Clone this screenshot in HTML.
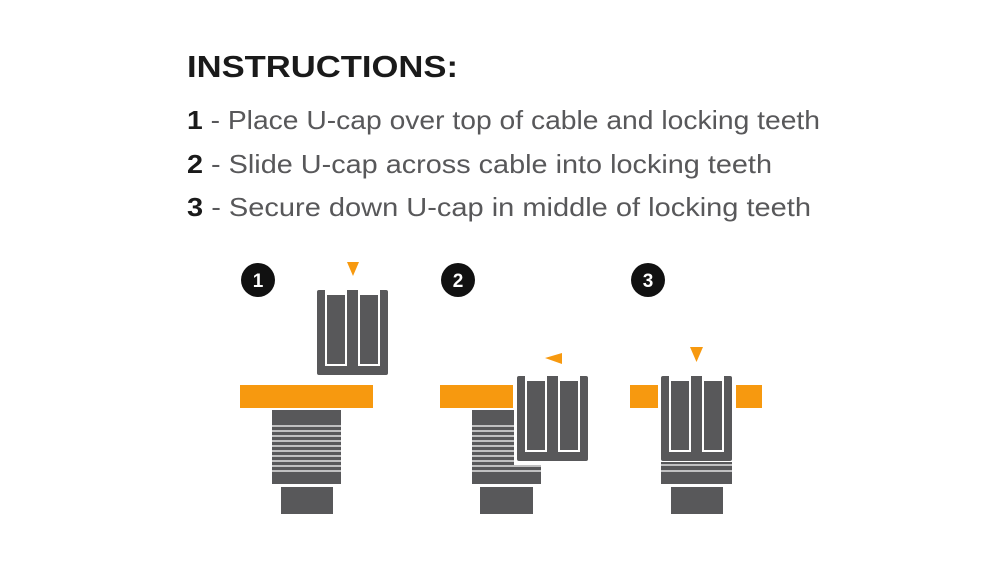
<!DOCTYPE html>
<html><head><meta charset="utf-8"><style>html,body{margin:0;padding:0;background:#fff}svg{display:block}</style></head>
<body>
<svg width="1000" height="565" viewBox="0 0 1000 565" xmlns="http://www.w3.org/2000/svg" font-family="Liberation Sans, sans-serif">
<rect width="1000" height="565" fill="#fff"/>
<text x="187" y="77" font-size="31" font-weight="bold" fill="#1a1a1a" textLength="271" lengthAdjust="spacingAndGlyphs">INSTRUCTIONS:</text>
<g font-size="26" fill="#58585a">
<text x="187" y="129" textLength="633" lengthAdjust="spacingAndGlyphs"><tspan font-weight="bold" fill="#1a1a1a">1</tspan> - Place U-cap over top of cable and locking teeth</text>
<text x="187" y="173" textLength="585" lengthAdjust="spacingAndGlyphs"><tspan font-weight="bold" fill="#1a1a1a">2</tspan> - Slide U-cap across cable into locking teeth</text>
<text x="187" y="216" textLength="624" lengthAdjust="spacingAndGlyphs"><tspan font-weight="bold" fill="#1a1a1a">3</tspan> - Secure down U-cap in middle of locking teeth</text>
</g>
<defs>
<g id="cap">
<rect x="0" y="0" width="71" height="85" rx="2" fill="#58585a"/>
<path d="M9 -1 V75 H29 V-1 M42 -1 V75 H62 V-1" fill="none" stroke="#fff" stroke-width="2"/>
<rect x="9" y="-1" width="20" height="6" fill="#fff"/>
<rect x="42" y="-1" width="20" height="6" fill="#fff"/>
<rect x="10" y="5" width="18" height="69" fill="#58585a"/>
<rect x="43" y="5" width="18" height="69" fill="#58585a"/>
<rect x="0" y="-1" width="71" height="1" fill="#fff"/>
</g>
<g id="thread">
<rect x="0" y="0" width="69" height="74" fill="#58585a"/>
<g stroke="#fff" stroke-width="1.3">
<line x1="0" y1="16" x2="69" y2="16"/><line x1="0" y1="21" x2="69" y2="21"/><line x1="0" y1="26" x2="69" y2="26"/><line x1="0" y1="31" x2="69" y2="31"/><line x1="0" y1="36" x2="69" y2="36"/><line x1="0" y1="41" x2="69" y2="41"/><line x1="0" y1="46" x2="69" y2="46"/><line x1="0" y1="51" x2="69" y2="51"/><line x1="0" y1="56" x2="69" y2="56"/><line x1="0" y1="61" x2="69" y2="61"/>
</g>
</g>
</defs>
<g fill="#111"><circle cx="258" cy="280" r="17"/><circle cx="458" cy="280" r="17"/><circle cx="648" cy="280" r="17"/></g>
<g fill="#fff" font-size="19" font-weight="bold" text-anchor="middle"><text x="258" y="287">1</text><text x="458" y="287">2</text><text x="648" y="287">3</text></g>
<g fill="#f7990f">
<polygon points="347,262 359,262 353,276"/>
<polygon points="545,358 562,353 562,364"/>
<polygon points="690,347 703,347 696.5,362"/>
<rect x="240" y="385" width="133" height="23"/>
<rect x="440" y="385" width="73" height="23"/>
<rect x="630" y="385" width="28" height="23"/>
<rect x="736" y="385" width="26" height="23"/>
</g>
<!-- panel 1 -->
<use href="#cap" x="317" y="290"/>
<use href="#thread" x="272" y="410"/>
<rect x="281" y="487" width="52" height="27" fill="#58585a"/>
<!-- panel 2 -->
<use href="#thread" x="472" y="410"/>
<rect x="480" y="487" width="53" height="27" fill="#58585a"/>
<rect x="514" y="372" width="77" height="93" fill="#fff"/>
<use href="#cap" x="517" y="376"/>
<!-- panel 3 -->
<rect x="661" y="462" width="71" height="22" fill="#58585a"/>
<g stroke="#fff" stroke-width="1.3"><line x1="661" y1="465" x2="732" y2="465"/><line x1="661" y1="471" x2="732" y2="471"/></g>
<use href="#cap" x="661" y="376"/>
<rect x="671" y="487" width="52" height="27" fill="#58585a"/>
</svg>
</body></html>
